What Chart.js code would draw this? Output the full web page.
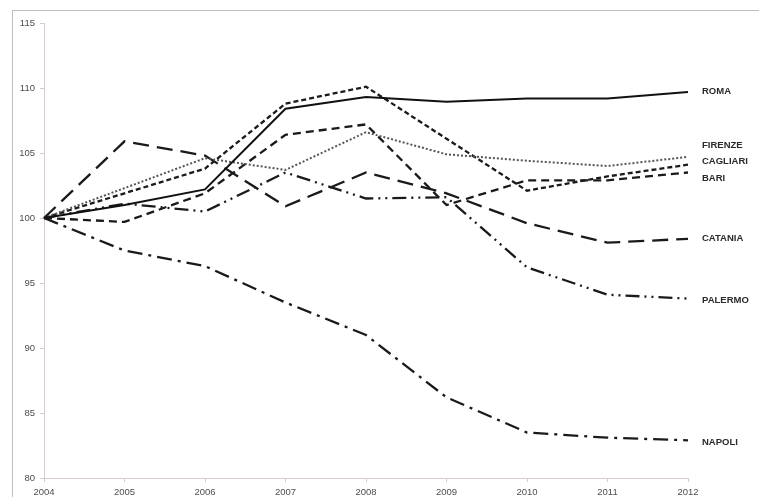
<!DOCTYPE html>
<html>
<head>
<meta charset="utf-8">
<style>
html,body{margin:0;padding:0;background:#fff;}
#wrap{position:relative;width:759px;height:497px;}
</style>
<script src="https://cdn.jsdelivr.net/npm/chart.js@4.4.1/dist/chart.umd.min.js"></script>
</head>
<body>
<div id="wrap"><canvas id="c" width="759" height="497"></canvas></div>
<script>
const years = ['2004','2005','2006','2007','2008','2009','2010','2011','2012'];
const ROMA     = [100, 101.0, 102.2, 108.4, 109.3, 108.95, 109.2, 109.2, 109.7];
const FIRENZE  = [100, 102.3, 104.6, 103.7, 106.6, 104.9, 104.4, 104.0, 104.7];
const CAGLIARI = [100, 101.9, 103.8, 108.8, 110.1, 106.1, 102.1, 103.2, 104.1];
const BARI     = [100, 99.7, 101.9, 106.4, 107.2, 101.0, 102.9, 102.9, 103.5];
const CATANIA  = [100, 105.9, 104.8, 100.9, 103.5, 101.9, 99.6, 98.1, 98.4];
const PALERMO  = [100, 101.1, 100.5, 103.5, 101.5, 101.6, 96.2, 94.1, 93.8];
const NAPOLI   = [100, 97.5, 96.3, 93.5, 91.0, 86.2, 83.5, 83.1, 82.9];
const seriesNames = ['ROMA','FIRENZE','CAGLIARI','BARI','CATANIA','PALERMO','NAPOLI'];
const seriesData = [ROMA, FIRENZE, CAGLIARI, BARI, CATANIA, PALERMO, NAPOLI];

const styles = [
  {dash: [], width: 2, color: '#111'},
  {dash: [2, 2], width: 2, color: '#555'},
  {dash: [5, 3], width: 2.3, color: '#1a1a1a'},
  {dash: [8, 5], width: 2.3, color: '#1a1a1a'},
  {dash: [16, 8], width: 2.3, color: '#1a1a1a'},
  {dash: [14, 5, 2, 5, 2, 5], width: 2.3, color: '#1a1a1a'},
  {dash: [15, 6, 3, 6], width: 2.3, color: '#1a1a1a'}
];
const labelNudge = [-1, -12, -3, 6, 0, 2, 2];

const framePlugin = {
  id: 'frame',
  beforeDraw(chart) {
    const ctx = chart.ctx;
    ctx.save();
    ctx.fillStyle = '#fff';
    ctx.fillRect(0, 0, chart.width, chart.height);
    ctx.strokeStyle = '#bdbdbd';
    ctx.lineWidth = 1;
    ctx.strokeRect(12.5, 10.5, 900, 600);
    ctx.restore();
  }
};

const endLabels = {
  id: 'endLabels',
  afterDatasetsDraw(chart) {
    const ctx = chart.ctx;
    ctx.save();
    ctx.font = 'bold 9.5px "Liberation Sans Narrow", "Liberation Sans", Arial, sans-serif';
    ctx.fillStyle = '#2a2a2a';
    ctx.textBaseline = 'middle';
    ctx.textAlign = 'left';
    chart.data.datasets.forEach((ds, i) => {
      const meta = chart.getDatasetMeta(i);
      const pt = meta.data[meta.data.length - 1];
      ctx.fillText(ds.label, pt.x + 14, pt.y + labelNudge[i]);
    });
    ctx.restore();
  }
};

new Chart(document.getElementById('c'), {
  type: 'line',
  data: {
    labels: years,
    datasets: seriesNames.map((n, i) => ({
      label: n,
      data: seriesData[i],
      borderColor: styles[i].color,
      borderWidth: styles[i].width,
      borderDash: styles[i].dash,
      pointRadius: 0,
      tension: 0,
      fill: false
    }))
  },
  options: {
    responsive: false,
    animation: false,
    layout: {padding: {left: 0, right: 71, top: 23, bottom: 0}},
    plugins: {legend: {display: false}, tooltip: {enabled: false}},
    scales: {
      x: {
        type: 'category',
        offset: false,
        grid: {drawOnChartArea: false, drawTicks: true, tickLength: 4, color: '#d6cccc'},
        border: {color: '#d6cccc', width: 1},
        ticks: {
          color: '#4d4d4d', padding: 5, maxRotation: 0, autoSkip: false,
          font: {family: '"Liberation Sans", Arial, sans-serif', size: 9.5}
        },
        afterFit(s) { s.height = 19; }
      },
      y: {
        min: 80, max: 115,
        grid: {drawOnChartArea: false, drawTicks: true, tickLength: 4, color: '#d6cccc'},
        border: {color: '#d6cccc', width: 1},
        ticks: {
          stepSize: 5, color: '#4d4d4d', padding: 5,
          font: {family: '"Liberation Sans", Arial, sans-serif', size: 9.5}
        },
        afterFit(s) { s.width = 44; }
      }
    }
  },
  plugins: [framePlugin, endLabels]
});
</script>
</body>
</html>
